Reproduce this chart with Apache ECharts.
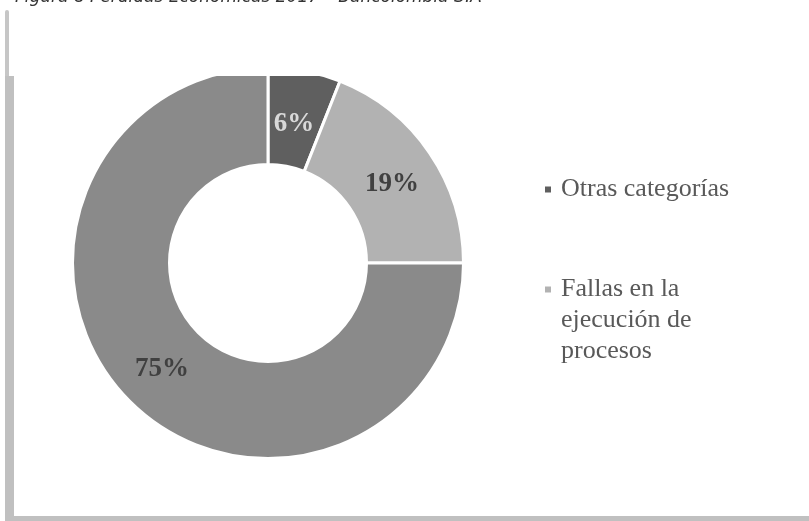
<!DOCTYPE html>
<html>
<head>
<meta charset="utf-8">
<script src="https://cdn.jsdelivr.net/npm/echarts@6/dist/echarts.min.js"></script>
<style>
  html, body { margin: 0; padding: 0; background: #ffffff; }
  #chart { width: 809px; height: 521px; }
</style>
</head>
<body>
<div id="chart"></div>
<script>
// Pérdidas económicas 2017 por categoría de evento (porcentaje del total)
const categories = ['Otras categorías', 'Fallas en la ejecución de procesos', 'Resto'];
const shares = [6, 19, 75];
const legendNames = ['Otras categorías', 'Fallas en la ejecución de procesos'];
// two leading blank lines keep the marker beside the first line of the wrapped entry
const legendLabels = ['Otras categorías', '\n\nFallas en la\nejecución de\nprocesos'];
const caption = 'Figura 8 Pérdidas Económicas 2017 – Bancolombia S.A';

// slice appearance
const sliceStyles = [
  { color: '#5f5f5f', labelColor: '#d9d9d9', labelOffset: [-2, 8] },
  { color: '#b2b2b2', labelColor: '#404040', labelOffset: [0, 5] },
  { color: '#8a8a8a', labelColor: '#404040', labelOffset: [0, 0] }
];

const serif = '"Liberation Serif", "Times New Roman", serif';
const LINE = 31;

const chart = echarts.init(document.getElementById('chart'), null, { renderer: 'canvas' });

const pieData = categories.map((name, i) => ({
  name: name,
  value: shares[i],
  itemStyle: { color: sliceStyles[i].color },
  label: { color: sliceStyles[i].labelColor, offset: sliceStyles[i].labelOffset }
}));

const legendText = { fontFamily: serif, fontSize: 26, lineHeight: LINE, color: '#595959', padding: [0, 0, 0, 4] };

chart.setOption({
  animation: false,
  backgroundColor: '#ffffff',
  legend: [
    {
      data: [legendNames[0]],
      left: 543, top: 174, padding: 0,
      orient: 'vertical',
      icon: 'rect', itemWidth: 8, itemHeight: 8,
      selectedMode: false,
      formatter: () => legendLabels[0],
      textStyle: legendText
    },
    {
      data: [legendNames[1]],
      left: 543, top: 212, padding: 0,
      orient: 'vertical',
      icon: 'rect', itemWidth: 8, itemHeight: 8,
      selectedMode: false,
      formatter: () => legendLabels[1],
      textStyle: legendText
    }
  ],
  series: [{
    type: 'pie',
    center: [268, 263],
    radius: [98.5, 195.5],
    startAngle: 90,
    clockwise: true,
    avoidLabelOverlap: false,
    silent: true,
    itemStyle: { borderColor: '#ffffff', borderWidth: 3 },
    label: {
      show: true,
      position: 'inside',
      formatter: '{c}%',
      fontFamily: serif,
      fontWeight: 'bold',
      fontSize: 27
    },
    labelLine: { show: false },
    emphasis: { disabled: true },
    data: pieData
  }],
  graphic: [
    // blank band above the plot frame
    { type: 'rect', z: 100, shape: { x: 14, y: 0, width: 795, height: 76 }, style: { fill: '#ffffff' } },
    // frame edges
    { type: 'rect', z: 101, shape: { x: 5, y: 10, width: 4, height: 70, r: [2, 2, 0, 0] }, style: { fill: '#c6c6c6' } },
    { type: 'rect', z: 101, shape: { x: 5, y: 76, width: 9, height: 445 }, style: { fill: '#c0c0c0' } },
    { type: 'rect', z: 101, shape: { x: 14, y: 516, width: 795, height: 5 }, style: { fill: '#c0c0c0' } },
    // caption
    {
      type: 'text', z: 102, x: 15, y: -2,
      style: {
        text: caption,
        fontFamily: '"DejaVu Sans", sans-serif',
        fontStyle: 'italic',
        fontSize: 17,
        fill: '#333333',
        verticalAlign: 'middle'
      }
    }
  ]
});
</script>
</body>
</html>
